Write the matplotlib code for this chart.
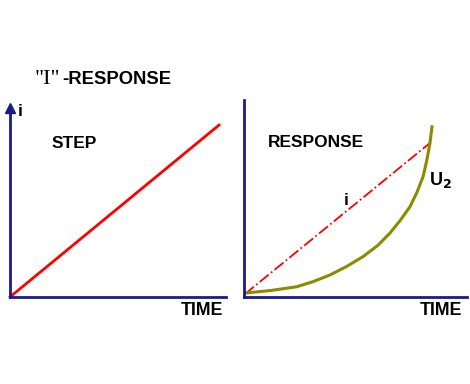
import matplotlib
matplotlib.use("Agg")
import matplotlib.pyplot as plt

# data (arbitrary units)
step_t = [0.0, 9.68]
step_i = [0.0, 8.82]

resp_t = [0.04, 8.34]
resp_i = [0.15, 7.82]

u2_t = [0.04, 1.2, 2.36, 3.1, 3.86, 4.6, 5.34, 6.0, 6.55, 7.0, 7.44, 7.75, 8.03, 8.2, 8.34, 8.43]
u2_v = [0.20, 0.33, 0.52, 0.78, 1.12, 1.55, 2.05, 2.62, 3.25, 3.88, 4.58, 5.30, 6.11, 6.95, 7.82, 8.64]

NAVY = "#1a1a8c"
OLIVE = "#8b8b00"
W, H = 470, 384
BOLD = dict(family="Liberation Sans", weight="bold")

fig = plt.figure(figsize=(W / 100, H / 100), dpi=100)


def make_ax(x0, x1, y_bot, y_top):
    ax = fig.add_axes([x0 / W, (H - y_bot) / H, (x1 - x0) / W, (y_bot - y_top) / H])
    ax.set_xlim(0, 10)
    ax.set_ylim(0, 10)
    for s in ("top", "right"):
        ax.spines[s].set_visible(False)
    for s in ("left", "bottom"):
        ax.spines[s].set_color(NAVY)
        ax.spines[s].set_linewidth(2)
    ax.set_xticks([])
    ax.set_yticks([])
    ax.patch.set_alpha(0)
    return ax


# left panel: step
ax1 = make_ax(10, 226, 297, 102)
ax1.spines["left"].set_bounds(0, 9.5)
ax1.plot([0], [9.7], marker="^", color=NAVY, markersize=7, clip_on=False)
ax1.plot(step_t, step_i, color="#ff0000", lw=2, clip_on=False)
ax1.text(1.94, 7.85, "STEP", ha="left", va="center", fontsize=12.5, **BOLD)
ax1.text(0.35, 9.5, "i", ha="left", va="center", fontsize=12.5, **BOLD)
ax1.text(9.85, -0.67, "TIME", ha="right", va="center", fontsize=12.8, **BOLD)

# right panel: response
ax2 = make_ax(244, 467, 297, 100)
ax2.plot(resp_t, resp_i, color="#ff0000", lw=1.3, ls="-.", clip_on=False)
ax2.plot(u2_t, u2_v, color=OLIVE, lw=2.2, clip_on=False)
ax2.text(1.08, 7.82, "RESPONSE", ha="left", va="center", fontsize=12.5, **BOLD)
ax2.text(4.57, 4.92, "i", ha="center", va="center", fontsize=12.5, **BOLD)
ax2.text(8.3, 5.94, "U$_\\mathbf{2}$", ha="left", va="center", fontsize=13, **BOLD)
ax2.text(9.78, -0.66, "TIME", ha="right", va="center", fontsize=12.8, **BOLD)

# title
fig.text(35 / W, (H - 84) / H, '"I"', family="Liberation Serif", fontsize=16,
         ha="left", va="baseline")
fig.text(62 / W, (H - 84) / H, "-RESPONSE", fontsize=13.3, ha="left", va="baseline", **BOLD)

fig.savefig("out.png", dpi=100, facecolor="white")
